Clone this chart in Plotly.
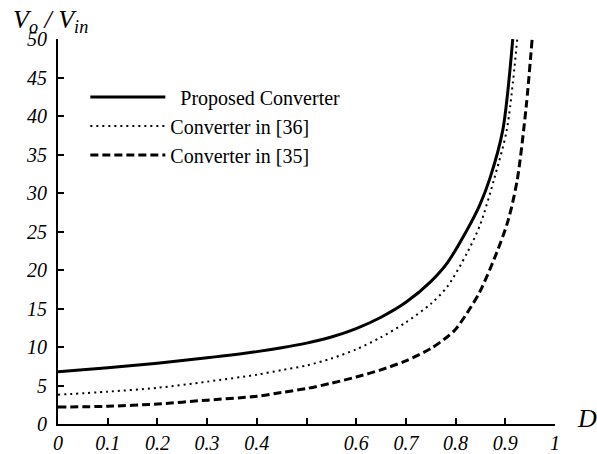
import plotly.graph_objects as go

# Data
d_prop = [0.0, 0.1, 0.2, 0.3, 0.4, 0.45, 0.5, 0.55, 0.6, 0.648, 0.7, 0.75, 0.783, 0.823, 0.849, 0.869, 0.895, 0.915]
v_prop = [6.8, 7.3, 7.9, 8.6, 9.4, 9.9, 10.5, 11.3, 12.4, 13.8, 15.8, 18.5, 20.9, 25.2, 28.5, 31.9, 38.2, 50.0]

d_c36 = [0.0, 0.1, 0.2, 0.3, 0.4, 0.45, 0.5, 0.55, 0.6, 0.648, 0.7, 0.75, 0.783, 0.823, 0.849, 0.877, 0.903, 0.924]
v_c36 = [3.8, 4.2, 4.7, 5.5, 6.4, 7.0, 7.6, 8.5, 9.7, 11.2, 13.2, 15.6, 17.8, 22.2, 25.8, 31.7, 38.2, 50.0]

d_c35 = [0.0, 0.1, 0.2, 0.3, 0.4, 0.45, 0.5, 0.55, 0.6, 0.648, 0.7, 0.75, 0.783, 0.8, 0.823, 0.849, 0.883, 0.906, 0.924, 0.942, 0.954]
v_c35 = [2.2, 2.3, 2.6, 3.1, 3.6, 4.1, 4.6, 5.3, 6.1, 7.0, 8.2, 9.8, 11.3, 12.3, 14.4, 17.2, 22.3, 26.5, 31.7, 41.2, 50.0]

x_tickvals = [0, 0.1, 0.2, 0.3, 0.4, 0.5, 0.6, 0.7, 0.8, 0.9, 1.0]
x_ticktext = ["0", "0.1", "0.2", "0.3", "0.4", "", "0.6", "0.7", "0.8", "0.9", "1"]
y_tickvals = [0, 5, 10, 15, 20, 25, 30, 35, 40, 45, 50]
y_ticktext = [str(v) for v in y_tickvals]

FONT = "Liberation Serif"

fig = go.Figure()
fig.add_trace(go.Scatter(x=d_prop, y=v_prop, mode="lines", name="  Proposed Converter",
                         line=dict(color="black", width=3, shape="spline", smoothing=0.8)))
fig.add_trace(go.Scatter(x=d_c36, y=v_c36, mode="lines", name="Converter in [36]",
                         line=dict(color="black", width=2, dash="2px,4px", shape="spline", smoothing=0.8)))
fig.add_trace(go.Scatter(x=d_c35, y=v_c35, mode="lines", name="Converter in [35]",
                         line=dict(color="black", width=3, dash="8px,4px", shape="spline", smoothing=0.8)))

fig.update_layout(
    template="none",
    width=597, height=454,
    margin=dict(l=58, r=42, t=39, b=30, autoexpand=False),
    paper_bgcolor="white", plot_bgcolor="white",
    font=dict(family=FONT, color="black"),
    showlegend=True,
    legend=dict(x=0.055, y=0.9, xanchor="left", yanchor="top",
                font=dict(family=FONT, size=20, color="black"),
                bgcolor="rgba(0,0,0,0)", itemwidth=75, tracegroupgap=0),
    xaxis=dict(range=[0, 1], showgrid=False, zeroline=False, automargin=False,
               showline=True, linecolor="black", linewidth=2,
               ticks="inside", ticklen=6, tickwidth=1.5, tickcolor="black",
               tickvals=x_tickvals, ticktext=x_ticktext, ticklabelstandoff=0,
               tickfont=dict(family=FONT, size=20, style="italic", color="black")),
    yaxis=dict(range=[0, 50], showgrid=False, zeroline=False, automargin=False,
               showline=True, linecolor="black", linewidth=2,
               ticks="inside", ticklen=6, tickwidth=1.5, tickcolor="black",
               tickvals=y_tickvals, ticktext=y_ticktext, ticklabelstandoff=5,
               tickfont=dict(family=FONT, size=20, style="italic", color="black")),
    annotations=[
        dict(text="<i>D</i>", xref="paper", yref="paper", x=1.04, y=0.013,
             xanchor="left", yanchor="middle", showarrow=False,
             font=dict(family=FONT, size=26, color="black")),
        dict(text="<i>V<sub>o</sub> / V<sub>in</sub></i>", xref="paper", yref="paper",
             x=-0.095, y=1.0, xanchor="left", yanchor="bottom", showarrow=False,
             font=dict(family=FONT, size=26, color="black")),
    ],
)

fig.write_html("out.html")
